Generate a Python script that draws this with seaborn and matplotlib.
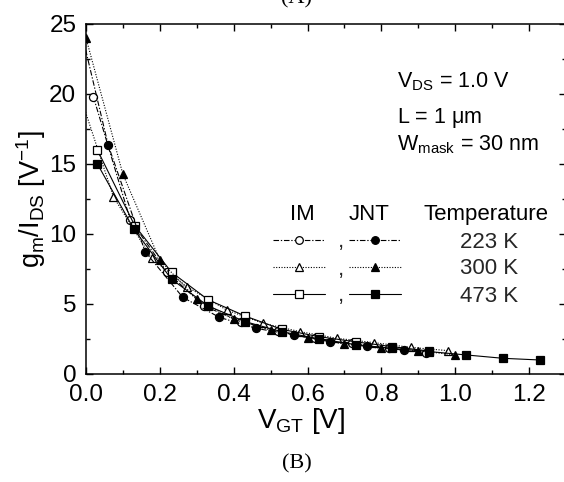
import matplotlib
matplotlib.use("Agg")
import matplotlib.pyplot as plt
from matplotlib.ticker import MultipleLocator
import seaborn as sns
import pandas as pd

# gm/IDS versus gate overdrive, inversion-mode (IM) and junctionless (JNT) devices
im_223_v = [0.02, 0.12, 0.22, 0.32, 0.42, 0.52, 0.62, 0.72, 0.82, 0.92]
im_223_g = [19.8, 11.0, 7.26, 4.85, 3.75, 3.05, 2.55, 2.2, 1.85, 1.48]

im_300_v = [-0.026, 0.074, 0.178, 0.273, 0.381, 0.48, 0.58, 0.68, 0.78, 0.88, 0.98]
im_300_g = [20.7, 12.67, 8.26, 6.24, 4.57, 3.62, 3.02, 2.55, 2.24, 1.9, 1.67]

im_473_v = [0.031, 0.132, 0.232, 0.331, 0.431, 0.53, 0.63, 0.73, 0.83, 0.93]
im_473_g = [16.0, 10.6, 7.26, 5.3, 4.14, 3.19, 2.67, 2.3, 1.95, 1.64]

jnt_223_v = [-0.04, 0.06, 0.16, 0.262, 0.361, 0.461, 0.562, 0.661, 0.76, 0.86]
jnt_223_g = [27.5, 16.36, 8.74, 5.48, 4.05, 3.26, 2.79, 2.31, 2.0, 1.71]

jnt_300_v = [0.0, 0.10, 0.20, 0.30, 0.40, 0.50, 0.60, 0.70, 0.80, 0.90, 1.00]
jnt_300_g = [24.0, 14.26, 8.14, 5.33, 3.9, 3.14, 2.6, 2.14, 1.83, 1.67, 1.36]

jnt_473_v = [0.031, 0.13, 0.232, 0.331, 0.431, 0.53, 0.63, 0.73, 0.83, 0.93, 1.03, 1.13, 1.23]
jnt_473_g = [15.0, 10.33, 6.76, 4.86, 3.74, 3.02, 2.52, 2.1, 1.83, 1.6, 1.36, 1.12, 1.0]

temperatures = ["223 K", "300 K", "473 K"]
annotation_lines = [r"V$_{\mathregular{DS}}$ = 1.0 V",
                    r"L = 1 $\mathregular{\mu}$m",
                    r"W$_{\mathregular{mask}}$ = 30 nm"]

sns.set_theme(style="ticks")
plt.rcParams["font.family"] = ["Liberation Sans", "DejaVu Sans"]
plt.rcParams["mathtext.fontset"] = "custom"
plt.rcParams["mathtext.rm"] = "Liberation Sans"
plt.rcParams["mathtext.it"] = "Liberation Sans"
plt.rcParams["mathtext.default"] = "regular"

W, H = 564, 482
fig = plt.figure(figsize=(W / 100, H / 100), dpi=100)
ax = fig.add_axes([86 / W, (H - 374) / H, 480 / W, 350 / H])

dashdot = (0, (5, 1.6, 1.2, 1.6))
dotted = (0, (1, 1.4))
styles = {
    "223": dict(marker="o", linestyle=dashdot),
    "300": dict(marker="^", linestyle=dotted),
    "473": dict(marker="s", linestyle="-"),
}

series = [
    ("IM", "223", im_223_v, im_223_g),
    ("IM", "300", im_300_v, im_300_g),
    ("IM", "473", im_473_v, im_473_g),
    ("JNT", "223", jnt_223_v, jnt_223_g),
    ("JNT", "300", jnt_300_v, jnt_300_g),
    ("JNT", "473", jnt_473_v, jnt_473_g),
]

handles = {}
for dev, temp, v, g in series:
    df = pd.DataFrame({"v": v, "g": g})
    face = "white" if dev == "IM" else "black"
    n_before = len(ax.lines)
    sns.lineplot(data=df, x="v", y="g", ax=ax, color="black", linewidth=0.8,
                 markersize=5.8, markerfacecolor=face, markeredgecolor="black",
                 markeredgewidth=0.9, sort=False, estimator=None,
                 clip_on=True, **styles[temp])
    handles[(dev, temp)] = ax.lines[n_before]

ax.set_xlim(0, 1.3)
ax.set_ylim(0, 25)
ax.xaxis.set_major_locator(MultipleLocator(0.2))
ax.xaxis.set_minor_locator(MultipleLocator(0.1))
ax.yaxis.set_major_locator(MultipleLocator(5))
ax.yaxis.set_minor_locator(MultipleLocator(2.5))
ax.set_xticks([0.0, 0.2, 0.4, 0.6, 0.8, 1.0, 1.2])
ax.set_xticklabels(["0.0", "0.2", "0.4", "0.6", "0.8", "1.0", "1.2"])
ax.tick_params(which="both", direction="in", top=True, right=True,
               labelsize=17.5, width=1.0, color="black", labelcolor="black")
ax.tick_params(which="major", length=5, pad=7)
ax.tick_params(which="minor", length=3)
for s in ax.spines.values():
    s.set_linewidth(1.1)
    s.set_color("black")


def fx(px):
    return (px - 86) / 480


def fy(py):
    return (374 - py) / 350


ax.set_xlabel(r"V$_{\mathregular{GT}}$ [V]", fontsize=20, color="black")
ax.set_ylabel(r"g$_{\mathregular{m}}$/I$_{\mathregular{DS}}$ [V$^{\mathregular{-1}}$]",
              fontsize=19.5, color="black")
ax.xaxis.set_label_coords(fx(301), fy(406))
ax.yaxis.set_label_coords(fx(48), 0.5)

# operating conditions
for txt, base in zip(annotation_lines, [87, 123, 150]):
    ax.text(fx(397), fy(base), txt, transform=ax.transAxes, fontsize=15.5,
            va="baseline", ha="left", color="black")

# custom legend: IM marker , JNT marker  temperature
for txt, cx in zip(["IM", "JNT", "Temperature"], [302, 369, 486]):
    ax.text(fx(cx), fy(220), txt, transform=ax.transAxes, fontsize=16,
            va="baseline", ha="center", color="black")

leg_kw = dict(loc="upper left", frameon=False, fontsize=16, handlelength=2.35,
              borderpad=0, borderaxespad=0, labelspacing=0.27, markerscale=0.95)
leg_im = ax.legend([handles[("IM", t)] for t in ["223", "300", "473"]],
                   [",", ",", ","], bbox_to_anchor=(fx(273), fy(231.5)),
                   handletextpad=0.55, **leg_kw)
ax.add_artist(leg_im)
ax.legend([handles[("JNT", t)] for t in ["223", "300", "473"]],
          temperatures, bbox_to_anchor=(fx(349), fy(231.5)),
          handletextpad=2.65, **leg_kw)

fig.text(297 / W, 1 - 3 / H, "(A)", fontsize=16, family="Liberation Serif",
         ha="center", va="baseline", color="black")
fig.text(297 / W, 1 - 468 / H, "(B)", fontsize=16, family="Liberation Serif",
         ha="center", va="baseline", color="black")

fig.savefig("out.png", dpi=100, facecolor="white")
